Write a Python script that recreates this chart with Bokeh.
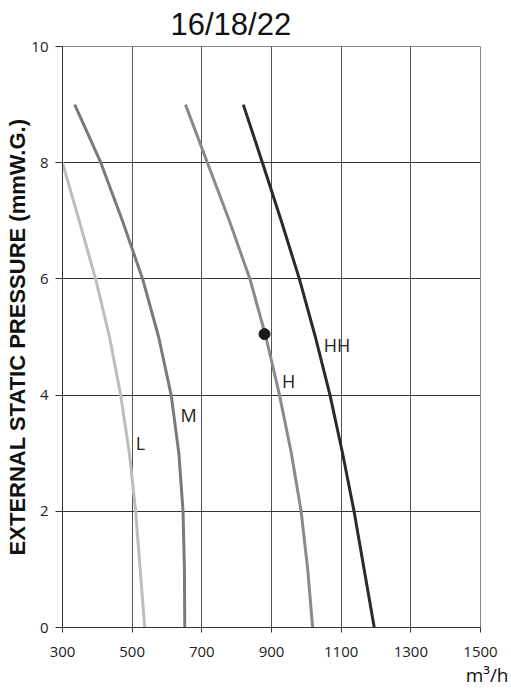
from bokeh.plotting import figure
from bokeh.models import FixedTicker, Title
from bokeh.core.properties import value
from bokeh.embed import file_html
from bokeh.resources import INLINE

# Curve data (airflow m3/h, external static pressure mmW.G.)
L_x = [300, 348, 395, 435, 467, 492, 510, 523, 536]
L_y = [8.0, 7.0, 6.0, 5.0, 4.0, 3.0, 2.0, 1.0, 0.0]

M_x = [335, 410, 472, 530, 576, 612, 634, 646, 650, 651]
M_y = [9.0, 8.0, 7.0, 6.0, 5.0, 4.0, 3.0, 2.0, 1.0, 0.0]

H_x = [653, 716, 779, 838, 884, 923, 957, 985, 1004, 1018]
H_y = [9.0, 8.0, 7.0, 6.0, 5.0, 4.0, 3.0, 2.0, 1.0, 0.0]

HH_x = [819, 874, 928, 980, 1026, 1068, 1104, 1137, 1166, 1195]
HH_y = [9.0, 8.0, 7.0, 6.0, 5.0, 4.0, 3.0, 2.0, 1.0, 0.0]

point_x = [880]
point_y = [5.05]

label_text = ["L", "M", "H", "HH"]
label_x = [524, 662, 949, 1088]
label_y = [3.18, 3.66, 4.25, 4.87]

x_ticks = [300, 500, 700, 900, 1100, 1300, 1500]
y_ticks = [0, 2, 4, 6, 8, 10]

title_text = "16/18/22"
y_title = "EXTERNAL STATIC PRESSURE (mmW.G.)"
x_title = "m³/h"

p = figure(width=511, height=688, x_range=(300, 1500), y_range=(0, 10),
           output_backend="svg", toolbar_location=None,
           min_border_left=62, min_border_right=31,
           min_border_top=45, min_border_bottom=61)

p.title.text = title_text
p.title.align = "left"
p.title.offset = 108
p.title.text_font = "Liberation Sans"
p.title.text_font_size = "31px"
p.title.text_font_style = "normal"
p.title.text_color = "#111111"
p.title.standoff = 9

p.outline_line_color = "#888888"
p.background_fill_color = "white"
p.border_fill_color = "white"

for ax in (p.xaxis[0], p.yaxis[0]):
    ax.axis_line_color = "#333333"
    ax.major_tick_line_color = "#333333"
    ax.minor_tick_line_color = None
    ax.major_tick_in = 0
    ax.major_label_text_font = "Open Sans"
    ax.major_label_text_font_size = "15px"
    ax.major_label_text_color = "#222222"

p.xaxis.ticker = FixedTicker(ticks=x_ticks)
p.yaxis.ticker = FixedTicker(ticks=y_ticks)
p.xaxis.major_tick_out = 5
p.yaxis.major_tick_out = 7
p.xaxis.major_label_standoff = 14
p.yaxis.major_label_standoff = 7

p.yaxis.axis_label = y_title
p.yaxis.axis_label_text_font = "Liberation Sans"
p.yaxis.axis_label_text_font_style = "bold"
p.yaxis.axis_label_text_font_size = "22px"
p.yaxis.axis_label_text_color = "#111111"
p.yaxis.axis_label_standoff = -2

p.xgrid.grid_line_color = "#555555"
p.ygrid.grid_line_color = "#333333"
p.xgrid.ticker = FixedTicker(ticks=x_ticks)
p.ygrid.ticker = FixedTicker(ticks=y_ticks)

p.add_layout(Title(text=x_title, align="right", offset=-28,
                   text_font="Open Sans", text_font_size="19px",
                   text_font_style="normal", text_color="#111111",
                   standoff=0), "below")

p.line(L_x, L_y, line_color="#bdbdbd", line_width=3, line_join="round")
p.line(M_x, M_y, line_color="#7a7a7a", line_width=3, line_join="round")
p.line(H_x, H_y, line_color="#8a8a8a", line_width=3, line_join="round")
p.line(HH_x, HH_y, line_color="#2a2a2a", line_width=3, line_join="round")

p.scatter(point_x, point_y, size=11, fill_color="#1a1a1a", line_color="#1a1a1a")

p.text(x=label_x, y=label_y, text=label_text, text_font=value("Open Sans"),
       text_font_size="18px", text_align="center", text_baseline="middle",
       text_color="#222222")

open("out.html", "w").write(file_html(p, INLINE))
